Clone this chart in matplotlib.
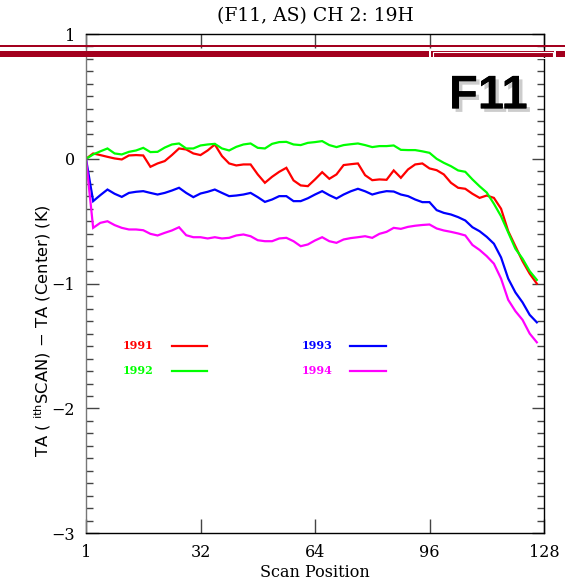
import numpy as np
import matplotlib
matplotlib.use('Agg')
import matplotlib.pyplot as plt
import matplotlib.patheffects as pe
from matplotlib.patches import Rectangle

# scan positions (every 2nd scan)
scan_pos = np.arange(0, 128, 2)

ta_1991 = [0, 0.043, 0.03, 0.016, 0.003, -0.005, 0.027, 0.03, 0.027, -0.064,
           -0.037, -0.018, 0.03, 0.083, 0.075, 0.043, 0.03, 0.067, 0.115, 0.022,
           -0.037, -0.053, -0.045, -0.045, -0.125, -0.192, -0.144, -0.104, -0.072, -0.173,
           -0.213, -0.219, -0.165, -0.107, -0.16, -0.125, -0.05, -0.043, -0.037, -0.131,
           -0.171, -0.165, -0.168, -0.093, -0.152, -0.085, -0.045, -0.037, -0.077, -0.091,
           -0.125, -0.192, -0.232, -0.24, -0.28, -0.313, -0.294, -0.313, -0.40, -0.58,
           -0.70, -0.82, -0.92, -1.0]
ta_1992 = [0, 0.035, 0.06, 0.083, 0.043, 0.035, 0.056, 0.067, 0.088, 0.054,
           0.056, 0.09, 0.115, 0.123, 0.083, 0.083, 0.107, 0.115, 0.12, 0.083,
           0.067, 0.096, 0.115, 0.123, 0.088, 0.083, 0.12, 0.134, 0.136, 0.115,
           0.11, 0.128, 0.134, 0.142, 0.11, 0.094, 0.11, 0.117, 0.123, 0.11,
           0.094, 0.102, 0.102, 0.107, 0.072, 0.07, 0.07, 0.06, 0.048, 0.0,
           -0.032, -0.059, -0.093, -0.104, -0.165, -0.22, -0.27, -0.36, -0.46, -0.59,
           -0.72, -0.80, -0.90, -0.97]
ta_1993 = [0, -0.339, -0.291, -0.246, -0.28, -0.305, -0.273, -0.264, -0.259, -0.273,
           -0.286, -0.273, -0.254, -0.232, -0.273, -0.307, -0.278, -0.264, -0.246, -0.273,
           -0.299, -0.294, -0.286, -0.273, -0.307, -0.345, -0.326, -0.299, -0.299, -0.339,
           -0.339, -0.316, -0.286, -0.259, -0.291, -0.318, -0.286, -0.26, -0.24, -0.26,
           -0.286, -0.27, -0.259, -0.262, -0.286, -0.299, -0.326, -0.347, -0.347, -0.411,
           -0.433, -0.446, -0.467, -0.494, -0.548, -0.58, -0.625, -0.68, -0.79, -0.96,
           -1.07, -1.15, -1.25, -1.31]
ta_1994 = [0, -0.553, -0.513, -0.5, -0.531, -0.553, -0.566, -0.566, -0.572, -0.601,
           -0.614, -0.593, -0.574, -0.548, -0.612, -0.628, -0.628, -0.638, -0.628, -0.638,
           -0.633, -0.614, -0.606, -0.62, -0.652, -0.66, -0.66, -0.638, -0.633, -0.66,
           -0.7, -0.686, -0.654, -0.628, -0.66, -0.673, -0.646, -0.635, -0.628, -0.62,
           -0.633, -0.601, -0.585, -0.553, -0.561, -0.545, -0.536, -0.53, -0.526, -0.558,
           -0.574, -0.585, -0.598, -0.614, -0.69, -0.73, -0.78, -0.84, -0.96, -1.13,
           -1.22, -1.29, -1.40, -1.47]

years = ['1991', '1992', '1993', '1994']
colors = ['#ff0000', '#00ff00', '#0000ff', '#ff00ff']
series = [ta_1991, ta_1992, ta_1993, ta_1994]

xticks = [0, 32, 64, 96, 128]
xticklabels = ['1', '32', '64', '96', '128']
yticks = [-3, -2, -1, 0, 1]

fig = plt.figure(figsize=(5.65, 5.81), dpi=100)
ax = fig.add_axes([86 / 565, 1 - 533.3 / 581, 458 / 565, 499.3 / 581])

for vals, c in zip(series, colors):
    ax.plot(scan_pos, vals, color=c, lw=1.6, solid_joinstyle='miter')

ax.set_xlim(0, 128)
ax.set_ylim(-3, 1)
ax.set_xticks(xticks)
ax.set_xticklabels(xticklabels, family='DejaVu Serif', fontsize=11.5)
ax.set_yticks(yticks)
ax.set_yticklabels(['\u22123', '\u22122', '\u22121', '0', '1'], family='DejaVu Serif', fontsize=11.5)
ax.set_yticks(np.arange(-3, 1.01, 0.1), minor=True)
ax.tick_params(axis='both', which='major', direction='in', length=10, width=1,
               top=True, right=True, pad=8, color='#444444')
ax.tick_params(axis='y', which='major', length=9)
ax.tick_params(axis='y', which='minor', direction='in', length=5, width=1,
               right=True, color='#444444')
for s in ax.spines.values():
    s.set_linewidth(1)
ax.spines['left'].set_color('#777777')

ax.set_title('(F11, AS) CH 2: 19H', family='DejaVu Serif', fontsize=13.5, pad=9)
ax.set_xlabel('Scan Position', family='DejaVu Serif', fontsize=11.5, labelpad=2)
ax.set_ylabel(r'TA ( $^{\mathrm{ith}}$SCAN) $-$ TA (Center) (K)',
              family='DejaVu Sans', fontsize=11.8)
ax.yaxis.set_label_coords(-0.073, 0.407)

# legend drawn IDL-style
leg_text_x = [0.1135, 0.1135, 0.504, 0.504]
leg_line_x = [(0.188, 0.264), (0.188, 0.264), (0.576, 0.655), (0.576, 0.655)]
leg_y = [0.377, 0.327, 0.377, 0.327]
for yr, c, tx, lx, ly in zip(years, colors, leg_text_x, leg_line_x, leg_y):
    ax.text(tx, ly, yr, color=c, transform=ax.transAxes, ha='center', va='center',
            family='DejaVu Serif', weight='bold', fontsize=8)
    ax.plot(lx, [ly - 0.002, ly - 0.002], color=c, lw=1.6, transform=ax.transAxes)

# satellite tag
ax.text(0.965, 0.875, 'F11', transform=ax.transAxes, ha='right', va='center',
        family='Liberation Sans', weight='bold', fontsize=34, color='black',
        path_effects=[pe.withSimplePatchShadow(offset=(2.5, -2.5), shadow_rgbFace='#aaaaaa', alpha=0.6),
                      pe.Normal()])

# red banner across the top
banner = '#a3001e'
H = 581.0
W = 565.0
def frect(x0, y0, x1, y1, **kw):
    r = Rectangle((x0 / W, 1 - y1 / H), (x1 - x0) / W, (y1 - y0) / H,
                  transform=fig.transFigure, zorder=10, **kw)
    fig.add_artist(r)

frect(0, 44.8, 565, 46.8, facecolor=banner, edgecolor='none')
frect(0, 50.5, 429, 57, facecolor=banner, edgecolor='none')
frect(431, 50.5, 554, 57, facecolor=banner, edgecolor='none')
frect(432.5, 51.8, 552.5, 57.5, facecolor='none', edgecolor='white', lw=0.8)
frect(556, 50.5, 565, 57, facecolor=banner, edgecolor='none')

fig.savefig('out.png', dpi=100)
